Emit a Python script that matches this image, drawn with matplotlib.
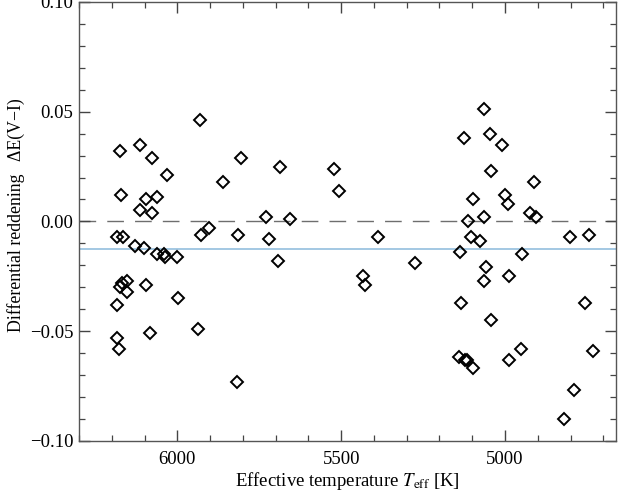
import matplotlib
matplotlib.use("Agg")
import matplotlib.pyplot as plt
from matplotlib.ticker import MultipleLocator

plt.rcParams["font.family"] = ["Liberation Serif", "DejaVu Serif"]
plt.rcParams["mathtext.fontset"] = "stix"

# Effective temperature [K] and differential reddening dE(V-I)
teff_hot = [6174, 6172, 6113, 6076, 6031, 6097, 6061, 6114, 6076, 5932,
            5861, 5806, 5688, 5729, 5657, 6184, 6167, 6128, 6101, 5927,
            5903, 5814, 5721, 5523, 5507, 6062, 6042, 6038, 6002, 5692,
            6168, 6155, 6174, 6155, 6096, 6183, 5998, 6183, 6179, 6083,
            5936, 5818]
dered_hot = [0.032, 0.012, 0.035, 0.029, 0.021, 0.010, 0.011, 0.005, 0.004, 0.046,
             0.018, 0.029, 0.025, 0.002, 0.001, -0.007, -0.007, -0.011, -0.012, -0.006,
             -0.003, -0.006, -0.008, 0.024, 0.014, -0.015, -0.015, -0.016, -0.016, -0.018,
             -0.028, -0.027, -0.030, -0.032, -0.029, -0.038, -0.035, -0.053, -0.058, -0.051,
             -0.049, -0.073]

teff_cool = [5387, 5124, 5064, 5047, 5009, 5042, 4910, 5000, 4992, 5097,
             4924, 4905, 5064, 5112, 5104, 5076, 4803, 4744, 5137, 4948,
             5274, 5432, 5428, 5058, 5065, 4989, 5134, 5043, 4757, 4950,
             5139, 5122, 5116, 5099, 4989, 4732, 4788, 4821]
dered_cool = [-0.007, 0.038, 0.051, 0.040, 0.035, 0.023, 0.018, 0.012, 0.008, 0.010,
              0.004, 0.002, 0.002, 0.000, -0.007, -0.009, -0.007, -0.006, -0.014, -0.015,
              -0.019, -0.025, -0.029, -0.021, -0.027, -0.025, -0.037, -0.045, -0.037, -0.058,
              -0.062, -0.063, -0.063, -0.067, -0.063, -0.059, -0.077, -0.090]

mean_offset = -0.0126  # horizontal reference (blue line)

teff = teff_hot + teff_cool
dered = dered_hot + dered_cool

fig = plt.figure(figsize=(6.22, 4.92), dpi=100)
ax = fig.add_axes([0.127, 0.104, 0.864, 0.892])

ax.axhline(0.0, color="#6e6e6e", lw=1.0, dashes=(12, 8), zorder=1)
ax.axhline(mean_offset, color="#a3c8e3", lw=1.4, zorder=1)
ax.plot(teff, dered, ls="none", marker="D", ms=6.0, mfc="none",
        mec="black", mew=1.4, zorder=3)

ax.set_xlim(6300, 4660)
ax.set_ylim(-0.10, 0.10)
ax.xaxis.set_major_locator(MultipleLocator(500))
ax.xaxis.set_minor_locator(MultipleLocator(100))
ax.yaxis.set_major_locator(MultipleLocator(0.05))
ax.yaxis.set_minor_locator(MultipleLocator(0.01))
ax.yaxis.set_major_formatter(plt.FuncFormatter(lambda v, p: f"{v:.2f}".replace("-", "\u2212")))

ax.tick_params(which="both", direction="in", top=True, right=True,
               color="#444444", labelsize=13.5)
ax.tick_params(axis="x", pad=7)
ax.tick_params(axis="y", pad=4)
ax.tick_params(which="major", length=8, width=1.0)
ax.tick_params(which="minor", length=4, width=0.9)
for s in ax.spines.values():
    s.set_color("#555555")
    s.set_linewidth(1.0)

ax.set_xlabel(r"Effective temperature $T_\mathrm{eff}$ [K]", fontsize=13.5, labelpad=2)
ax.set_ylabel("Differential reddening   \u0394E(V\u2212I)", fontsize=12.8)
ax.yaxis.set_label_coords(-0.1, 0.515)

fig.savefig("out.png", dpi=100)
